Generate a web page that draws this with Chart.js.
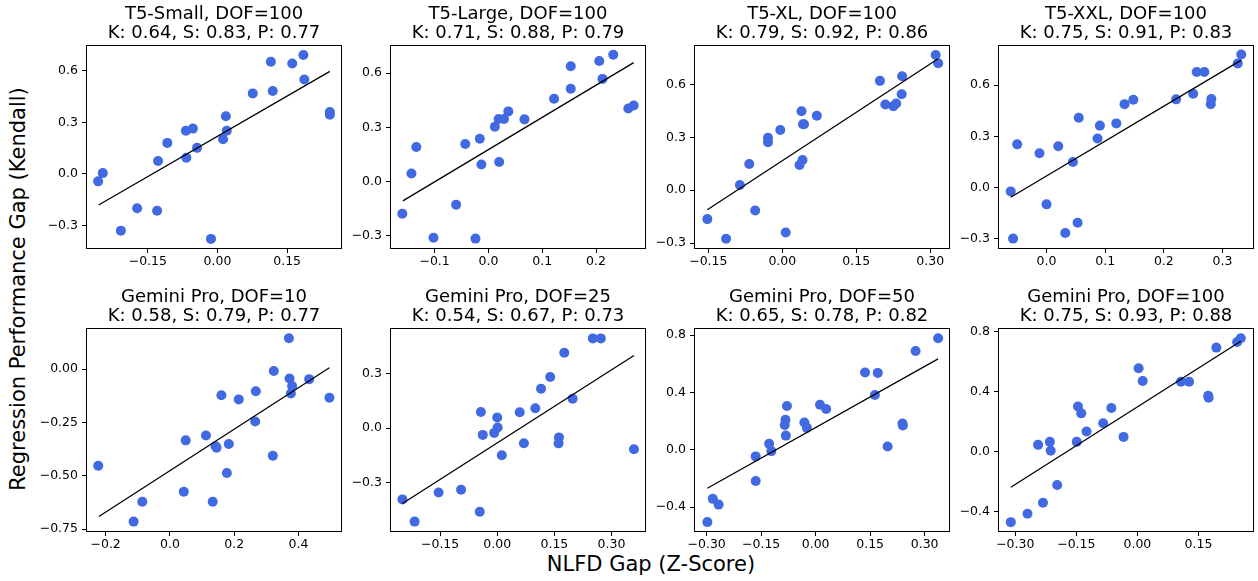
<!DOCTYPE html>
<html>
<head>
<meta charset="utf-8">
<script src="https://cdn.jsdelivr.net/npm/chart.js@4.4.1/dist/chart.umd.min.js"></script>
<style>
  body { margin: 0; background: #fff; }
  #fig { position: relative; width: 1258px; height: 581px; overflow: hidden; font-family: "DejaVu Sans", sans-serif; }
  .panel { position: absolute; }
  .supx { position: absolute; left: 0; width: 1302px; top: 552px; text-align: center; font-size: 21px; color: #000; }
  .supy { position: absolute; left: 18px; top: 289px; transform: translate(-50%, -50%) rotate(-90deg); white-space: nowrap; font-size: 21px; color: #000; }
</style>
</head>
<body>
<div id="fig">
  <div class="supy">Regression Performance Gap (Kendall)</div>
  <div class="supx">NLFD Gap (Z-Score)</div>
</div>
<script>
// ---- datos ----
const titles = [
  ['T5-Small, DOF=100', 'K: 0.64, S: 0.83, P: 0.77'],
  ['T5-Large, DOF=100', 'K: 0.71, S: 0.88, P: 0.79'],
  ['T5-XL, DOF=100', 'K: 0.79, S: 0.92, P: 0.86'],
  ['T5-XXL, DOF=100', 'K: 0.75, S: 0.91, P: 0.83'],
  ['Gemini Pro, DOF=10', 'K: 0.58, S: 0.79, P: 0.77'],
  ['Gemini Pro, DOF=25', 'K: 0.54, S: 0.67, P: 0.73'],
  ['Gemini Pro, DOF=50', 'K: 0.65, S: 0.78, P: 0.82'],
  ['Gemini Pro, DOF=100', 'K: 0.75, S: 0.93, P: 0.88']
];

const t5SmallX = [-0.257, -0.247, -0.208, -0.173, -0.130, -0.128, -0.108, -0.068, -0.053, -0.067, -0.044, -0.014, 0.012, 0.018, 0.020, 0.076, 0.115, 0.119, 0.161, 0.185, 0.187, 0.242, 0.242];
const t5SmallY = [-0.044, 0.004, -0.331, -0.201, -0.215, 0.074, 0.180, 0.251, 0.263, 0.093, 0.151, -0.379, 0.201, 0.335, 0.251, 0.468, 0.652, 0.482, 0.642, 0.692, 0.549, 0.360, 0.344];

const t5LargeX = [-0.160, -0.143, -0.134, -0.102, -0.060, -0.043, -0.024, -0.016, -0.013, 0.012, 0.019, 0.020, 0.029, 0.037, 0.067, 0.122, 0.153, 0.153, 0.206, 0.212, 0.232, 0.260, 0.270];
const t5LargeY = [-0.178, 0.044, 0.191, -0.311, -0.129, 0.208, -0.316, 0.237, 0.094, 0.303, 0.346, 0.108, 0.346, 0.388, 0.344, 0.458, 0.513, 0.638, 0.667, 0.568, 0.702, 0.404, 0.421];

const t5XlX = [-0.152, -0.114, -0.086, -0.067, -0.055, -0.029, -0.029, -0.004, 0.007, 0.035, 0.039, 0.041, 0.042, 0.044, 0.070, 0.198, 0.209, 0.225, 0.231, 0.243, 0.242, 0.311, 0.316];
const t5XlY = [-0.164, -0.275, 0.030, 0.149, -0.115, 0.272, 0.298, 0.342, -0.240, 0.143, 0.449, 0.172, 0.375, 0.375, 0.423, 0.621, 0.487, 0.477, 0.492, 0.647, 0.545, 0.768, 0.721];

const t5XxlX = [-0.061, -0.057, -0.050, -0.012, 0.000, 0.020, 0.032, 0.045, 0.053, 0.055, 0.087, 0.091, 0.119, 0.133, 0.148, 0.221, 0.250, 0.256, 0.269, 0.281, 0.280, 0.326, 0.332];
const t5XxlY = [-0.023, -0.300, 0.253, 0.201, -0.099, 0.242, -0.267, 0.150, -0.207, 0.409, 0.287, 0.363, 0.376, 0.489, 0.515, 0.517, 0.550, 0.678, 0.678, 0.519, 0.489, 0.727, 0.780];

const gem10X = [-0.223, -0.113, -0.086, 0.043, 0.049, 0.112, 0.133, 0.142, 0.145, 0.160, 0.177, 0.183, 0.214, 0.265, 0.267, 0.320, 0.323, 0.370, 0.372, 0.376, 0.380, 0.433, 0.496];
const gem10Y = [-0.453, -0.715, -0.622, -0.575, -0.334, -0.311, -0.622, -0.362, -0.369, -0.123, -0.487, -0.351, -0.142, -0.246, -0.104, -0.406, -0.009, 0.145, -0.044, -0.114, -0.079, -0.047, -0.134];

const gem25X = [-0.249, -0.217, -0.154, -0.095, -0.046, -0.043, -0.038, -0.008, 0.000, 0.001, 0.012, 0.059, 0.070, 0.100, 0.115, 0.139, 0.162, 0.161, 0.176, 0.198, 0.251, 0.272, 0.359];
const gem25Y = [-0.394, -0.517, -0.356, -0.341, -0.462, 0.090, -0.037, -0.026, 0.059, 0.004, -0.150, 0.088, -0.083, 0.110, 0.218, 0.283, -0.051, -0.084, 0.418, 0.163, 0.497, 0.497, -0.117];

const gem50X = [-0.298, -0.283, -0.267, -0.165, -0.165, -0.128, -0.122, -0.085, -0.083, -0.082, -0.079, -0.031, -0.024, 0.012, 0.029, 0.136, 0.163, 0.171, 0.198, 0.239, 0.240, 0.275, 0.337];
const gem50Y = [-0.504, -0.342, -0.382, -0.046, -0.217, 0.042, -0.009, 0.173, 0.210, 0.099, 0.305, 0.190, 0.153, 0.314, 0.284, 0.539, 0.382, 0.536, 0.023, 0.183, 0.169, 0.689, 0.777];

const gem100X = [-0.311, -0.270, -0.244, -0.232, -0.215, -0.213, -0.197, -0.149, -0.146, -0.138, -0.125, -0.084, -0.064, -0.034, 0.003, 0.013, 0.107, 0.127, 0.174, 0.175, 0.194, 0.245, 0.254];
const gem100Y = [-0.469, -0.413, 0.046, -0.340, 0.066, 0.007, -0.221, 0.066, 0.301, 0.256, 0.135, 0.190, 0.292, 0.099, 0.557, 0.471, 0.466, 0.466, 0.373, 0.360, 0.694, 0.731, 0.756];

// recta de regresión: [x0, y0, x1, y1]
const fitLines = [
  [-0.256, -0.182, 0.242, 0.596],
  [-0.159, -0.107, 0.270, 0.658],
  [-0.152, -0.111, 0.316, 0.747],
  [-0.061, -0.057, 0.332, 0.747],
  [-0.221, -0.691, 0.496, 0.006],
  [-0.249, -0.417, 0.359, 0.402],
  [-0.298, -0.268, 0.337, 0.634],
  [-0.311, -0.236, 0.254, 0.736]
];

// etiquetas de los ejes
const xTickLabels = [
  ['−0.15', '0.00', '0.15'],
  ['−0.1', '0.0', '0.1', '0.2'],
  ['−0.15', '0.00', '0.15', '0.30'],
  ['0.0', '0.1', '0.2', '0.3'],
  ['−0.2', '0.0', '0.2', '0.4'],
  ['−0.15', '0.00', '0.15', '0.30'],
  ['−0.30', '−0.15', '0.00', '0.15', '0.30'],
  ['−0.30', '−0.15', '0.00', '0.15']
];
const yTickLabels = [
  ['−0.3', '0.0', '0.3', '0.6'],
  ['−0.3', '0.0', '0.3', '0.6'],
  ['−0.3', '0.0', '0.3', '0.6'],
  ['−0.3', '0.0', '0.3', '0.6'],
  ['−0.75', '−0.50', '−0.25', '0.00'],
  ['−0.3', '0.0', '0.3'],
  ['−0.4', '0.0', '0.4', '0.8'],
  ['−0.4', '0.0', '0.4', '0.8']
];

const seriesX = [t5SmallX, t5LargeX, t5XlX, t5XxlX, gem10X, gem25X, gem50X, gem100X];
const seriesY = [t5SmallY, t5LargeY, t5XlY, t5XxlY, gem10Y, gem25Y, gem50Y, gem100Y];

// límites de los ejes [xmin, xmax, ymin, ymax]
const limits = [
  [-0.281, 0.266, -0.432, 0.744],
  [-0.181, 0.291, -0.368, 0.750],
  [-0.177, 0.338, -0.328, 0.819],
  [-0.081, 0.352, -0.355, 0.830],
  [-0.258, 0.532, -0.759, 0.188],
  [-0.279, 0.388, -0.569, 0.549],
  [-0.332, 0.367, -0.566, 0.842],
  [-0.340, 0.284, -0.528, 0.818]
];

// ---- maquetación ----
const plotLefts = [87, 391, 695, 999];
const plotTops = [46, 329];
const plotW = 254, plotH = 202;
const yAxisW = 70, xAxisH = 30, titleH = 42, padRight = 6;
const FONT = "'DejaVu Sans', sans-serif";

const toNum = s => parseFloat(s.replace('−', '-'));

// marco completo alrededor del área de datos
const framePlugin = {
  id: 'frame',
  afterDraw(chart) {
    const a = chart.chartArea;
    const c = chart.ctx;
    c.save();
    c.strokeStyle = '#000';
    c.lineWidth = 1;
    c.strokeRect(Math.round(a.left) - 0.5, Math.round(a.top) - 0.5, Math.round(a.right - a.left) + 1, Math.round(a.bottom - a.top) + 1);
    c.restore();
  }
};

const fig = document.getElementById('fig');

for (let i = 0; i < 8; i++) {
  const col = i % 4, row = Math.floor(i / 4);
  const wrap = document.createElement('div');
  wrap.className = 'panel';
  wrap.style.left = (plotLefts[col] - yAxisW) + 'px';
  wrap.style.top = (plotTops[row] - titleH) + 'px';
  wrap.style.width = (yAxisW + plotW + padRight) + 'px';
  wrap.style.height = (titleH + plotH + xAxisH) + 'px';
  const cv = document.createElement('canvas');
  wrap.appendChild(cv);
  fig.appendChild(wrap);

  const pts = seriesX[i].map((x, k) => ({ x: x, y: seriesY[i][k] }));
  const f = fitLines[i];
  const xVals = xTickLabels[i].map(toNum);
  const yVals = yTickLabels[i].map(toNum);
  const lim = limits[i];

  new Chart(cv, {
    type: 'scatter',
    data: {
      datasets: [
        {
          type: 'line',
          data: [{ x: f[0], y: f[1] }, { x: f[2], y: f[3] }],
          borderColor: '#000',
          borderWidth: 1.3,
          pointRadius: 0,
          fill: false,
          order: 0
        },
        {
          data: pts,
          backgroundColor: '#4169e1',
          borderWidth: 0,
          pointRadius: 5,
          pointHoverRadius: 5,
          order: 1
        }
      ]
    },
    options: {
      responsive: true,
      maintainAspectRatio: false,
      animation: false,
      devicePixelRatio: 1,
      layout: { padding: { left: 0, right: padRight, top: 0, bottom: 0 } },
      plugins: {
        legend: { display: false },
        tooltip: { enabled: false },
        title: {
          display: true,
          fullSize: false,
          text: titles[i],
          color: '#000',
          font: { family: FONT, size: 18, weight: 'normal', lineHeight: 1.1 },
          padding: { top: 0, bottom: 2.4 }
        }
      },
      scales: {
        x: {
          type: 'linear',
          min: lim[0], max: lim[1],
          afterBuildTicks: s => { s.ticks = xVals.map(v => ({ value: v })); },
          afterFit: s => { s.height = xAxisH; },
          grid: { drawOnChartArea: false, drawTicks: true, tickLength: 5, color: '#000' },
          border: { display: false },
          ticks: {
            autoSkip: false, maxRotation: 0, padding: 1, color: '#000',
            font: { family: FONT, size: 12.5 },
            callback: (v, idx) => xTickLabels[i][idx]
          }
        },
        y: {
          type: 'linear',
          min: lim[2], max: lim[3],
          afterBuildTicks: s => { s.ticks = yVals.map(v => ({ value: v })); },
          afterFit: s => { s.width = yAxisW; },
          grid: { drawOnChartArea: false, drawTicks: true, tickLength: 5, color: '#000' },
          border: { display: false },
          ticks: {
            autoSkip: false, padding: 4, color: '#000',
            font: { family: FONT, size: 12.5 },
            callback: (v, idx) => yTickLabels[i][idx]
          }
        }
      }
    },
    plugins: [framePlugin]
  });
}
</script>
</body>
</html>
